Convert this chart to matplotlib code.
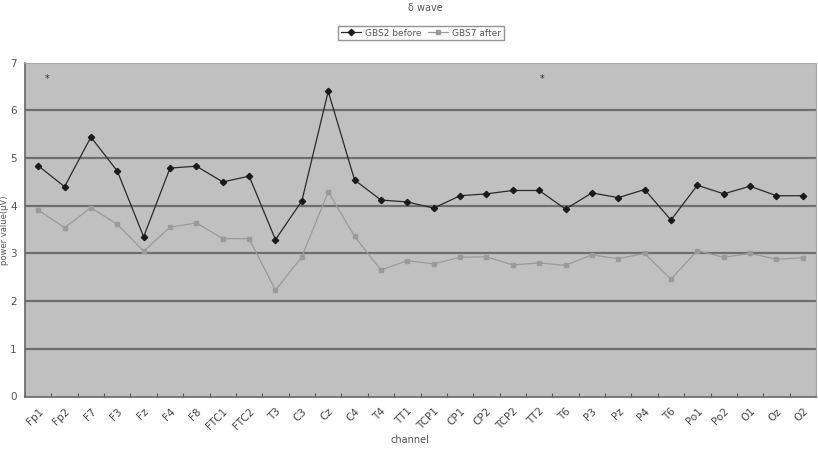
import matplotlib
matplotlib.use("Agg")
import matplotlib.pyplot as plt
import numpy as np

channels = ["Fp1", "Fp2", "F7", "F3", "Fz", "F4", "F8", "FTC1", "FTC2", "T3",
            "C3", "Cz", "C4", "T4", "TT1", "TCP1", "CP1", "CP2", "TCP2", "TT2",
            "T6", "P3", "Pz", "P4", "T6", "Po1", "Po2", "O1", "Oz", "O2"]
before = [4.84, 4.40, 5.44, 4.73, 3.35, 4.79, 4.83, 4.50, 4.62, 3.29,
          4.10, 6.40, 4.54, 4.12, 4.08, 3.95, 4.21, 4.25, 4.32, 4.32,
          3.93, 4.27, 4.17, 4.34, 3.70, 4.43, 4.25, 4.41, 4.21, 4.21]
after = [3.91, 3.54, 3.96, 3.61, 3.05, 3.55, 3.64, 3.31, 3.31, 2.23,
         2.93, 4.29, 3.36, 2.65, 2.85, 2.78, 2.92, 2.93, 2.76, 2.80,
         2.75, 2.97, 2.89, 3.00, 2.46, 3.06, 2.92, 3.00, 2.88, 2.91]
yticks = [0, 1, 2, 3, 4, 5, 6, 7]
star_pos = [0.35, 19.1]
star_val = [6.65, 6.65]

fig = plt.figure(figsize=(8.18, 4.63), dpi=100)
ax = fig.add_axes([25/818, (463-396.5)/463, (816-25)/818, (396.5-62.7)/463])
ax.set_facecolor("#c0c0c0")

x = np.arange(len(channels))
ax.set_xlim(-0.5, len(channels) - 0.5)
ax.set_ylim(0, 7)
for v in yticks[1:-1]:
    ax.axhline(v, color="#6e6e6e", lw=1.6, zorder=1)

ax.plot(x, after, color="#9a9a9a", lw=0.9, marker="s", ms=3.5,
        mfc="#9a9a9a", mec="#9a9a9a", label="GBS7 after", zorder=3)
ax.plot(x, before, color="#2a2a2a", lw=0.9, marker="D", ms=3.2,
        mfc="#1a1a1a", mec="#1a1a1a", label="GBS2 before", zorder=4)
for px, pv in zip(star_pos, star_val):
    ax.text(px, pv, "*", ha="center", va="center", fontsize=7, color="#333333")

ax.set_xticks(np.arange(-0.5, len(channels), 1.0), minor=False)
ax.set_xticklabels([])
ax.set_xticks(x, minor=True)
ax.set_xticklabels(channels, minor=True, rotation=45, ha="right",
                   rotation_mode="anchor", fontsize=7.5, color="#444444")
ax.tick_params(axis="x", which="minor", length=0, pad=7)
ax.tick_params(axis="x", which="major", length=3, direction="in", color="#555555")
ax.set_yticks(yticks)
ax.set_yticklabels([str(v) for v in yticks], fontsize=7.5, color="#555555")
ax.tick_params(axis="y", length=0, pad=6)

for s in ["left", "bottom"]:
    ax.spines[s].set_color("#666666")
    ax.spines[s].set_linewidth(1.2)
for s in ["top", "right"]:
    ax.spines[s].set_color("#a8a8a8")
    ax.spines[s].set_linewidth(0.8)

fig.text(4.5/818, 1 - 230/463, "power value(μV)", rotation=90, ha="center",
         va="center", fontsize=6, color="#555555")
fig.text(410/818, 1 - 440/463, "channel", ha="center", va="center",
         fontsize=7, color="#555555")
fig.text(425/818, 1 - 8/463, "δ wave", ha="center", va="center",
         fontsize=7, color="#555555")

h, l = ax.get_legend_handles_labels()
leg = fig.legend(h[::-1], l[::-1], loc="center", ncol=2,
                 bbox_to_anchor=(421/818, 1 - 33/463), fontsize=6.5,
                 frameon=True, fancybox=False, edgecolor="#777777",
                 handlelength=2.2, columnspacing=0.8, borderpad=0.3,
                 handletextpad=0.4)
for t in leg.get_texts():
    t.set_color("#555555")

fig.savefig("out.png", dpi=100, facecolor="white")
